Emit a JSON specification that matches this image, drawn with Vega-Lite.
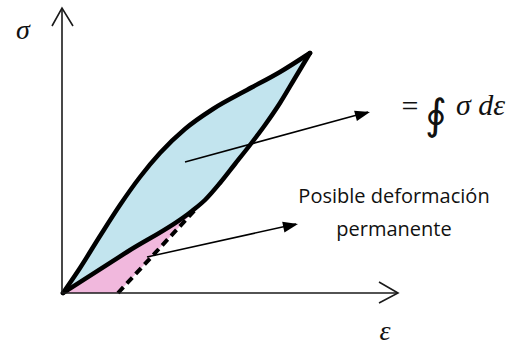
{
  "$schema": "https://vega.github.io/schema/vega-lite/v6.json",
  "width": 514,
  "height": 347,
  "padding": 0,
  "autosize": {"type": "none"},
  "background": "white",
  "config": {"view": {"stroke": null}},
  "datasets": {
    "upper": [
      {"eps": 0, "sig": 0},
      {"eps": 17, "sig": 25},
      {"eps": 37, "sig": 57},
      {"eps": 57, "sig": 88},
      {"eps": 77, "sig": 116},
      {"eps": 97, "sig": 140},
      {"eps": 122, "sig": 164},
      {"eps": 150, "sig": 184},
      {"eps": 184, "sig": 203},
      {"eps": 217, "sig": 221},
      {"eps": 247, "sig": 240}
    ],
    "lower": [
      {"eps": 0, "sig": 0},
      {"eps": 64, "sig": 41},
      {"eps": 129, "sig": 82},
      {"eps": 142, "sig": 93},
      {"eps": 157, "sig": 110},
      {"eps": 172, "sig": 129},
      {"eps": 187, "sig": 148},
      {"eps": 202, "sig": 168},
      {"eps": 217, "sig": 190},
      {"eps": 232, "sig": 215},
      {"eps": 247, "sig": 240}
    ],
    "pink": [
      {"o": 1, "eps": 0, "sig": 0},
      {"o": 2, "eps": 55, "sig": 0},
      {"o": 3, "eps": 130, "sig": 81},
      {"o": 4, "eps": 0, "sig": 0}
    ],
    "dashed": [
      {"o": 1, "eps": 55, "sig": 0},
      {"o": 2, "eps": 132, "sig": 83}
    ],
    "axes": [
      {"seg": "y", "o": 1, "eps": -1, "sig": 0},
      {"seg": "y", "o": 2, "eps": -1, "sig": 285},
      {"seg": "yh", "o": 1, "eps": -11, "sig": 267},
      {"seg": "yh", "o": 2, "eps": -1, "sig": 285},
      {"seg": "yh", "o": 3, "eps": 10, "sig": 267},
      {"seg": "x", "o": 1, "eps": -1, "sig": 0},
      {"seg": "x", "o": 2, "eps": 335, "sig": 0},
      {"seg": "xh", "o": 1, "eps": 316, "sig": 11},
      {"seg": "xh", "o": 2, "eps": 335, "sig": 0},
      {"seg": "xh", "o": 3, "eps": 316, "sig": -10}
    ],
    "arrows": [
      {"seg": "a1", "o": 1, "eps": 122, "sig": 131},
      {"seg": "a1", "o": 2, "eps": 305, "sig": 181},
      {"seg": "a2", "o": 1, "eps": 84, "sig": 36},
      {"seg": "a2", "o": 2, "eps": 233, "sig": 69}
    ],
    "tip1": [{"eps": 307, "sig": 181}],
    "tip2": [{"eps": 235, "sig": 69}],
    "labels": [
      {"t": "σ", "eps": -40, "sig": 262},
      {"t": "ε", "eps": 322, "sig": -39}
    ],
    "eq": [{"t": "=", "eps": 347, "sig": 186}],
    "oint": [{"t": "∮", "eps": 373, "sig": 177}],
    "sde": [{"t": "σ dε", "eps": 393, "sig": 178}],
    "notes": [
      {"t": "Posible deformación", "eps": 331, "sig": 96},
      {"t": "permanente", "eps": 331, "sig": 63}
    ]
  },
  "encoding": {
    "x": {"field": "eps", "type": "quantitative", "scale": {"domain": [-63, 451], "nice": false, "zero": false}, "axis": null},
    "y": {"field": "sig", "type": "quantitative", "scale": {"domain": [-54, 293], "nice": false, "zero": false}, "axis": null}
  },
  "layer": [
    {
      "data": {"name": "upper"},
      "mark": {"type": "area", "color": "#c2e4ee", "opacity": 1, "interpolate": "monotone"}
    },
    {
      "data": {"name": "lower"},
      "mark": {"type": "area", "color": "white", "opacity": 1, "interpolate": "monotone"}
    },
    {
      "data": {"name": "pink"},
      "mark": {"type": "line", "fill": "#f1b8dd", "stroke": null, "strokeWidth": 0},
      "encoding": {"order": {"field": "o", "type": "quantitative"}}
    },
    {
      "data": {"name": "upper"},
      "mark": {"type": "line", "color": "black", "strokeWidth": 4.5, "strokeCap": "round", "interpolate": "monotone"}
    },
    {
      "data": {"name": "lower"},
      "mark": {"type": "line", "color": "black", "strokeWidth": 4.5, "strokeCap": "round", "interpolate": "monotone"}
    },
    {
      "data": {"name": "dashed"},
      "mark": {"type": "line", "color": "black", "strokeWidth": 4, "strokeDash": [8, 5]},
      "encoding": {"order": {"field": "o", "type": "quantitative"}}
    },
    {
      "data": {"name": "axes"},
      "mark": {"type": "line", "color": "#1a1a1a", "strokeWidth": 1.6},
      "encoding": {"detail": {"field": "seg"}, "order": {"field": "o", "type": "quantitative"}}
    },
    {
      "data": {"name": "arrows"},
      "mark": {"type": "line", "color": "black", "strokeWidth": 1.5},
      "encoding": {"detail": {"field": "seg"}, "order": {"field": "o", "type": "quantitative"}}
    },
    {
      "data": {"name": "tip1"},
      "mark": {"type": "point", "shape": "M0,0L-0.36,1L0.36,1Z", "filled": true, "color": "black", "opacity": 1, "size": 900, "angle": 75}
    },
    {
      "data": {"name": "tip2"},
      "mark": {"type": "point", "shape": "M0,0L-0.36,1L0.36,1Z", "filled": true, "color": "black", "opacity": 1, "size": 900, "angle": 78}
    },
    {
      "data": {"name": "labels"},
      "mark": {"type": "text", "font": "Liberation Serif", "fontStyle": "italic", "fontSize": 28, "color": "#111"},
      "encoding": {"text": {"field": "t"}}
    },
    {
      "data": {"name": "eq"},
      "mark": {"type": "text", "font": "Liberation Serif", "fontSize": 30, "color": "#111"},
      "encoding": {"text": {"field": "t"}}
    },
    {
      "data": {"name": "oint"},
      "mark": {"type": "text", "font": "DejaVu Serif", "fontSize": 42, "color": "#111"},
      "encoding": {"text": {"field": "t"}}
    },
    {
      "data": {"name": "sde"},
      "mark": {"type": "text", "font": "Liberation Serif", "fontStyle": "italic", "fontSize": 30, "align": "left", "baseline": "alphabetic", "color": "#111"},
      "encoding": {"text": {"field": "t"}}
    },
    {
      "data": {"name": "notes"},
      "mark": {"type": "text", "font": "Open Sans", "fontSize": 20, "color": "#111"},
      "encoding": {"text": {"field": "t"}}
    }
  ]
}
